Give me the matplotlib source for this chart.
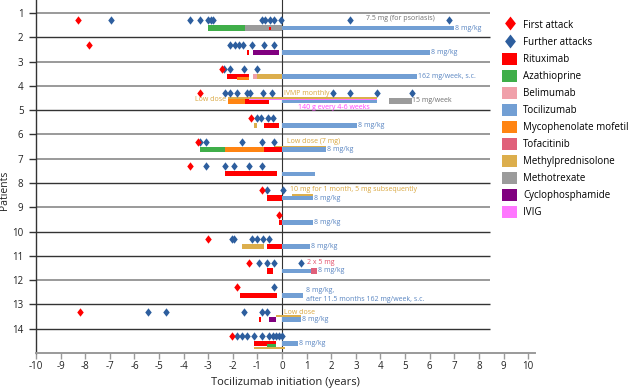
import matplotlib
matplotlib.use("Agg")
import matplotlib.pyplot as plt
from matplotlib.lines import Line2D
from matplotlib.patches import Patch

plt.rcParams['font.family'] = ['Open Sans', 'DejaVu Sans']
plt.rcParams['axes.unicode_minus'] = False

# ---------------- DATA ----------------
patients = list(range(1, 15))
first_attack = [-8.3, -7.85, -2.45, -3.33, -1.26, -3.42, -3.74, -0.82, -0.12, -3.0, -1.34, -1.83, -8.22, -2.03]
further_attacks = [
    [-6.95, -3.74, -3.33, -3.0, -2.9, -2.8, -0.81, -0.69, -0.49, -0.33, -0.04, 2.76, 6.8],
    [-2.11, -1.91, -1.75, -1.59, -1.22, -0.73, -0.32],
    [-2.35, -2.1, -1.53, -1.03],
    [-2.32, -2.11, -1.83, -1.42, -1.3, -0.77, -0.41, 2.07, 2.76, 3.86, 5.28],
    [-1.02, -0.85, -0.57, -0.37],
    [-3.33, -3.09, -1.62, -0.82, -0.32],
    [-3.09, -2.3, -1.95, -1.34, -0.82],
    [-0.61, 0.03],
    [],
    [-2.03, -1.95, -1.22, -1.03, -0.77, -0.53],
    [-0.93, -0.61, -0.33, 0.77],
    [-0.32],
    [-5.45, -4.72, -1.53, -0.82, -0.61],
    [-1.83, -1.62, -1.42, -1.13, -0.82, -0.53, -0.36, -0.24, -0.12, -0.02],
]

drugs = ['Rituximab', 'Azathioprine', 'Belimumab', 'Tocilizumab', 'Mycophenolate mofetil',
         'Tofacitinib', 'Methylprednisolone', 'Methotrexate', 'Cyclophosphamide', 'IVIG']

tx_patient = [1, 1, 1, 1,
              2, 2, 2,
              3, 3, 3, 3, 3,
              4, 4, 4, 4, 4, 4,
              5, 5, 5,
              6, 6, 6, 6, 6,
              7, 7,
              8, 8, 8,
              9, 9,
              10, 10, 10,
              11, 11, 11,
              12, 12,
              13, 13, 13, 13,
              14, 14, 14, 14]
tx_drug = ['Azathioprine', 'Methotrexate', 'Rituximab', 'Tocilizumab',
           'Rituximab', 'Cyclophosphamide', 'Tocilizumab',
           'Rituximab', 'Mycophenolate mofetil', 'Belimumab', 'Methylprednisolone', 'Tocilizumab',
           'Mycophenolate mofetil', 'Rituximab', 'Tocilizumab', 'Methylprednisolone', 'IVIG', 'Methotrexate',
           'Methylprednisolone', 'Rituximab', 'Tocilizumab',
           'Azathioprine', 'Mycophenolate mofetil', 'Rituximab', 'Tocilizumab', 'Methylprednisolone',
           'Rituximab', 'Tocilizumab',
           'Rituximab', 'Tocilizumab', 'Methylprednisolone',
           'Rituximab', 'Tocilizumab',
           'Methylprednisolone', 'Rituximab', 'Tocilizumab',
           'Rituximab', 'Tocilizumab', 'Tofacitinib',
           'Rituximab', 'Tocilizumab',
           'Rituximab', 'Cyclophosphamide', 'Tocilizumab', 'Methylprednisolone',
           'Rituximab', 'Azathioprine', 'Tocilizumab', 'Methylprednisolone']
tx_start = [-3.0, -1.5, -0.52, 0.0,
            -1.41, -1.2, 0.0,
            -2.23, -1.84, -1.2, -1.0, 0.0,
            -2.2, -1.5, 0.0, -2.2, -1.34, 4.35,
            -1.13, -0.73, 0.0,
            -3.33, -2.3, -0.73, 0.0, -0.33,
            -2.3, 0.0,
            -0.61, 0.0, 0.4,
            -0.12, 0.0,
            -1.62, -0.61, 0.0,
            -0.61, 0.0, 1.18,
            -1.7, 0.0,
            -0.92, -0.53, 0.0, -0.24,
            -1.13, -0.61, 0.0, -1.13]
tx_end = [-1.5, 0.0, -0.46, 7.0,
          -1.35, -0.14, 6.0,
          -1.34, -1.34, -1.0, 0.0, 5.5,
          -1.5, -0.53, 3.87, 3.87, 3.87, 5.28,
          -1.0, -0.13, 3.05,
          -2.3, -0.73, 0.0, 1.78, 1.78,
          -0.2, 1.34,
          0.0, 1.27, 1.27,
          0.0, 1.27,
          -0.73, 0.0, 1.14,
          -0.36, 1.18, 1.42,
          -0.2, 0.86,
          -0.86, -0.24, 0.77, 0.77,
          -0.24, -0.24, 0.65, 0.12]

# annotations: (patient, text, x, row offset, colour key, ha)
notes = [
    (1, '7.5 mg (for psoriasis)', 3.4, 0.22, 'Methotrexate_t', 'left'),
    (4, 'Low dose', -2.27, 0.54, 'Methylprednisolone_t', 'right'),
    (4, 'IVMP monthly', 0.08, 0.33, 'Methylprednisolone_t', 'left'),
    (4, '140 g every 4-6 weeks', 0.65, 0.87, 'IVIG_t', 'left'),
    (4, '15 mg/week', 5.3, 0.58, 'Methotrexate_t', 'left'),
    (6, 'Low dose (7 mg)', 0.2, 0.29, 'Methylprednisolone_t', 'left'),
    (8, '10 mg for 1 month, 5 mg subsequently', 0.33, 0.25, 'Methylprednisolone_t', 'left'),
    (11, '2 x 5 mg', 1.0, 0.29, 'Tofacitinib_t', 'left'),
    (12, '8 mg/kg,', 0.98, 0.41, 'Tocilizumab_t', 'left'),
    (12, 'after 11.5 months 162 mg/week, s.c.', 0.98, 0.79, 'Tocilizumab_t', 'left'),
    (13, 'Low dose', 0.08, 0.33, 'Methylprednisolone_t', 'left'),
]
toci_label = ['8 mg/kg', '8 mg/kg', '162 mg/week, s.c.', '', '8 mg/kg', '8 mg/kg', '',
              '8 mg/kg', '8 mg/kg', '8 mg/kg', '8 mg/kg', '', '8 mg/kg', '8 mg/kg']

# ---------------- STYLE ----------------
colors = {
    'Rituximab': '#ff0000',
    'Azathioprine': '#3fae49',
    'Belimumab': '#f0a0aa',
    'Tocilizumab': '#729fd4',
    'Mycophenolate mofetil': '#ff8412',
    'Tofacitinib': '#e0607a',
    'Methylprednisolone': '#dcae4c',
    'Methotrexate': '#9b9b9b',
    'Cyclophosphamide': '#80007f',
    'IVIG': '#ff77ff',
    'Methotrexate_t': '#707070',
    'Methylprednisolone_t': '#d9a63e',
    'IVIG_t': '#ff44ff',
    'Tofacitinib_t': '#e2506a',
    'Tocilizumab_t': '#5a86c2',
}
first_col = '#ff0000'
further_col = '#2d5e9e'

LANES = {
    'full': (0.62, 0.22),
    'toci': (0.62, 0.19),
    'low': (0.68, 0.11),
    'top': (0.49, 0.07),
    'thin': (0.57, 0.05),
    'bottom': (0.79, 0.07),
    'small': (0.62, 0.13),
}
lane_override = {
    (1, 'Rituximab'): 'small',
    (3, 'Mycophenolate mofetil'): 'low',
    (4, 'Methylprednisolone'): 'top',
    (4, 'IVIG'): 'thin',
    (6, 'Methylprednisolone'): 'top',
    (8, 'Methylprednisolone'): 'top',
    (13, 'Methylprednisolone'): 'top',
    (14, 'Azathioprine'): 'low',
    (14, 'Methylprednisolone'): 'bottom',
}

diamond = [(0, 1), (0.78, 0), (0, -1), (-0.78, 0), (0, 1)]

W, H = 628, 389
fig = plt.figure(figsize=(W / 100, H / 100), dpi=100)
ax = fig.add_axes([36 / W, 36 / H, (535 - 36) / W, 353 / H])
ax.set_xlim(-10, 10.28)
ax.set_ylim(14, -0.54)

# separators
grey_lines = {0, 2, 3, 5, 6, 8, 11}
for i in range(14):
    if i in grey_lines:
        ax.plot([-10, 8.45], [i, i], color='#9a9a9a', lw=1.4, zorder=1, solid_capstyle='butt')
    else:
        ax.plot([-10, 8.45], [i, i], color='#333333', lw=1.0, zorder=1, solid_capstyle='butt')

ax.axvline(0, color='#333333', lw=0.8, zorder=1)

# treatments
for p, d, s, e in zip(tx_patient, tx_drug, tx_start, tx_end):
    lane = lane_override.get((p, d), 'toci' if d == 'Tocilizumab' else 'full')
    off, h = LANES[lane]
    ax.barh(p - 1 + off, e - s, left=s, height=h, color=colors[d], lw=0, zorder=3)

# attacks
for p, fa, fu in zip(patients, first_attack, further_attacks):
    y = p - 1 + 0.3
    ax.plot(fu, [y] * len(fu), ls='none', marker=diamond, ms=6, color=further_col,
            mec='none', zorder=4)
    ax.plot([fa], [y], ls='none', marker=diamond, ms=6, color=first_col, mec='none', zorder=5)

# tocilizumab labels
for p, lab in zip(patients, toci_label):
    if not lab:
        continue
    ends = [e for pp, d, e in zip(tx_patient, tx_drug, tx_end) if pp == p and d in ('Tocilizumab', 'Tofacitinib')]
    ax.text(max(ends) + 0.04, p - 1 + 0.62, lab, fontsize=5, color=colors['Tocilizumab_t'],
            va='center', ha='left', zorder=6)

for p, t, x, off, ck, ha in notes:
    ax.text(x, p - 1 + off, t, fontsize=5, color=colors[ck], va='center', ha=ha, zorder=6)

# axes styling
for s in ['top', 'right']:
    ax.spines[s].set_visible(False)
ax.spines['left'].set_color('#333333')
ax.spines['left'].set_linewidth(1.0)
ax.spines['bottom'].set_color('#9a9a9a')
ax.spines['bottom'].set_linewidth(1.4)
ax.set_xticks(range(-10, 11))
ax.set_xticklabels([str(v) for v in range(-10, 11)])
ax.set_yticks(range(14))
ax.set_yticklabels([str(p) for p in patients])
ax.tick_params(axis='x', length=4, width=1, color='#9a9a9a', labelsize=7, pad=2, labelcolor='#222222')
ax.tick_params(axis='y', length=5, width=1, color='#333333', labelsize=7, pad=4, labelcolor='#222222')
ax.set_xlabel('Tocilizumab initiation (years)', fontsize=8, labelpad=3, color='#222222')
ax.set_ylabel('Patients', fontsize=7.5, color='#222222')
ax.yaxis.set_label_coords(-26 / 499, 0.46)

# legend
handles = [Line2D([], [], ls='none', marker=diamond, ms=10, color=first_col, mec='none'),
           Line2D([], [], ls='none', marker=diamond, ms=10, color=further_col, mec='none')]
labels = ['First attack', 'Further attacks']
for d in drugs:
    handles.append(Patch(facecolor=colors[d], edgecolor='none'))
    labels.append(d)
fig.legend(handles, labels, loc='upper left', bbox_to_anchor=(502 / W, 1 - 19 / H),
           frameon=False, fontsize=7, handlelength=1.55, handleheight=1.44,
           labelspacing=0.52, handletextpad=0.6, borderpad=0, borderaxespad=0)

fig.savefig('out.png', dpi=100)
